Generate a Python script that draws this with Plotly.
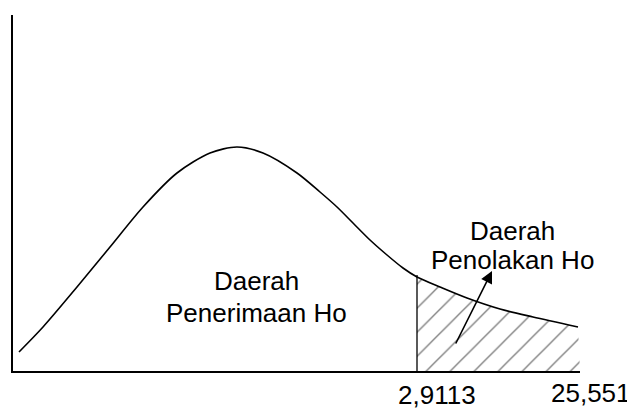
import plotly.graph_objects as go

# Curve (schematic density)
curve_x = [6, 30, 64, 97, 130, 164, 197, 224, 250, 284, 307, 324, 340, 357, 374, 390, 404, 427, 454, 487, 520, 565]
curve_y = [19, 44, 84, 124, 164, 198, 218, 224, 218, 198, 179, 164, 148, 131, 116, 103, 94, 84, 73, 62, 54, 44]

critical_x = 404
tail_end_x = 567

X_MAX = 567
Y_MAX = 356

tick_positions = [424, 578]
tick_offsets = [-24, -22]
tick_labels = ["2,9113", "25,551"]

region_text = ["Daerah", "Penerimaan Ho", "Daerah", "Penolakan Ho"]
region_x = [243, 243, 499, 499]
region_y = [90, 58, 140, 111]

arrow_tail = (442, 26)
arrow_tip = (479, 100)

FONT = "Liberation Sans, Arial, sans-serif"

fig = go.Figure()

# hatched rejection region
tail_x = [x for x in curve_x if x >= critical_x]
tail_y = [y for x, y in zip(curve_x, curve_y) if x >= critical_x]
fig.add_trace(go.Scatter(
    x=[critical_x] + tail_x + [tail_end_x, critical_x],
    y=[0] + tail_y + [0, 0],
    mode="lines", fill="toself", line=dict(width=0, color="rgba(0,0,0,0)"),
    fillcolor="white",
    fillpattern=dict(shape="/", size=17, solidity=0.08, fgcolor="black", bgcolor="white"),
    hoverinfo="skip", showlegend=False,
))

# the curve
fig.add_trace(go.Scatter(
    x=curve_x, y=curve_y, mode="lines",
    line=dict(color="black", width=1.6, shape="spline", smoothing=0.8),
    hoverinfo="skip", showlegend=False,
))

# critical value vertical line
crit_y = curve_y[curve_x.index(critical_x)]
fig.add_trace(go.Scatter(
    x=[critical_x, critical_x], y=[0, crit_y + 2], mode="lines",
    line=dict(color="black", width=1.3), hoverinfo="skip", showlegend=False,
))

for t, x, y in zip(region_text, region_x, region_y):
    fig.add_annotation(x=x, y=y, text=t, showarrow=False, xref="x", yref="y",
                       font=dict(family=FONT, size=26, color="black"),
                       xanchor="center", yanchor="middle")

for t, x, dy in zip(tick_labels, tick_positions, tick_offsets):
    fig.add_annotation(x=x / X_MAX, y=dy / Y_MAX, text=t, showarrow=False,
                       xref="paper", yref="paper",
                       font=dict(family=FONT, size=26, color="black"),
                       xanchor="center", yanchor="middle")

fig.add_annotation(x=arrow_tip[0], y=arrow_tip[1], ax=arrow_tail[0], ay=arrow_tail[1],
                   xref="x", yref="y", axref="x", ayref="y", text="",
                   showarrow=True, arrowhead=2, arrowsize=1.5, arrowwidth=1.6,
                   arrowcolor="black")

# page body has an 8px margin; offset margins so the plot sits where the reference has it
fig.update_layout(
    width=627, height=418,
    margin=dict(l=5, r=55, t=7, b=55),
    paper_bgcolor="white", plot_bgcolor="white",
    xaxis=dict(range=[0, X_MAX], showline=True, linecolor="black", linewidth=1.5,
               showgrid=False, zeroline=False, showticklabels=False, ticks=""),
    yaxis=dict(range=[0, Y_MAX], showline=True, linecolor="black", linewidth=1.5,
               showgrid=False, zeroline=False, showticklabels=False, ticks=""),
    showlegend=False,
)

fig.write_html("out.html")
